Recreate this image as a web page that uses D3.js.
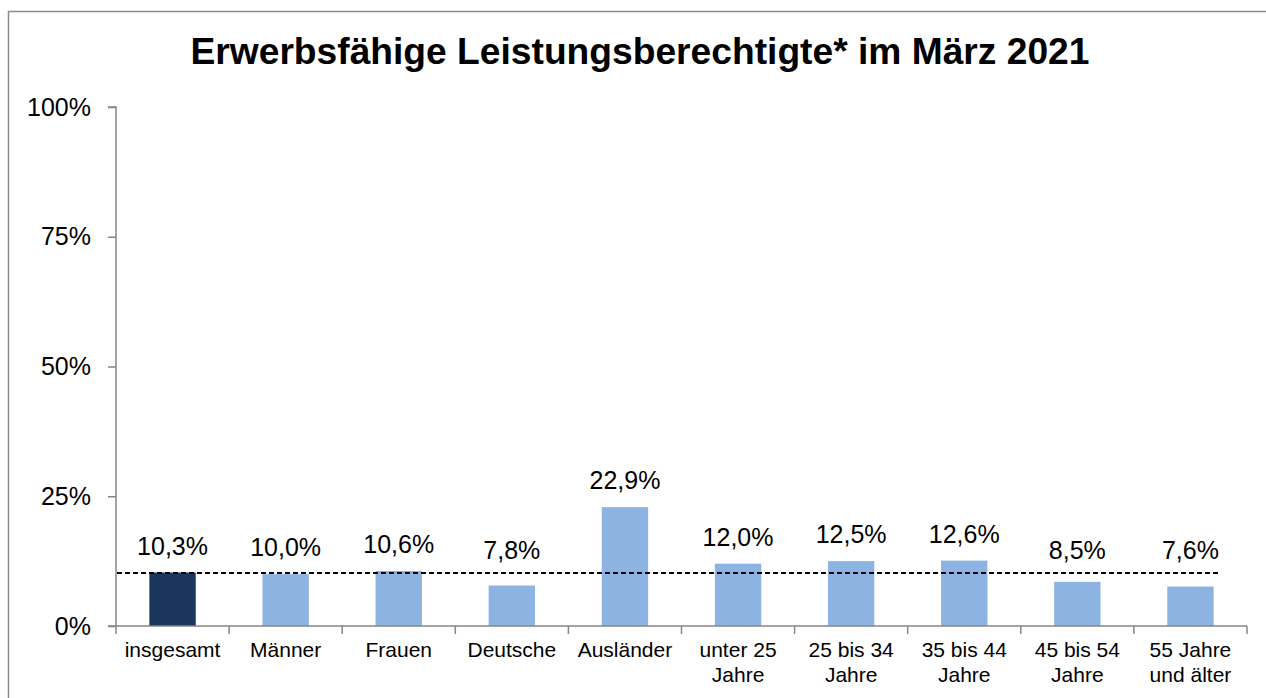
<!DOCTYPE html>
<html>
<head>
<meta charset="utf-8">
<script src="https://cdn.jsdelivr.net/npm/d3@7"></script>
<style>
  html, body { margin: 0; padding: 0; background: #fff; }
  svg { display: block; font-family: "Liberation Sans", Arial, sans-serif; }
</style>
</head>
<body>
<svg id="chart" width="1266" height="698"></svg>
<script>
const title = "Erwerbsfähige Leistungsberechtigte* im März 2021";
const categories = [
  ["insgesamt"], ["Männer"], ["Frauen"], ["Deutsche"], ["Ausländer"],
  ["unter 25", "Jahre"], ["25 bis 34", "Jahre"], ["35 bis 44", "Jahre"],
  ["45 bis 54", "Jahre"], ["55 Jahre", "und älter"]
];
const values = [10.3, 10.0, 10.6, 7.8, 22.9, 12.0, 12.5, 12.6, 8.5, 7.6];
const labels = ["10,3%", "10,0%", "10,6%", "7,8%", "22,9%", "12,0%", "12,5%", "12,6%", "8,5%", "7,6%"];
const yTicks = [0, 25, 50, 75, 100];
const referenceValue = 10.3;

(function () {
const svg = d3.select("#chart");
const pL = 116, pR = 1247, pT = 107, pB = 626;

// outer frame
svg.append("rect").attr("x", 8.5).attr("y", 11.5).attr("width", 1400).attr("height", 800)
  .attr("fill", "none").attr("stroke", "#8c8c8c").attr("stroke-width", 1.5);

svg.append("text").attr("x", 640).attr("y", 63.5).attr("text-anchor", "middle")
  .attr("font-size", 37.2).attr("font-weight", "bold").attr("fill", "#000").text(title);

const keys = categories.map((c, i) => i);
const x = d3.scaleBand().domain(keys).range([pL, pR]).padding(0);
const y = d3.scaleLinear().domain([0, 100]).range([pB, pT]);
const barW = x.bandwidth() * 0.41;

// y axis
const yAxis = d3.axisLeft(y).tickValues(yTicks).tickFormat(d => d + "%").tickSize(8).tickPadding(17);
const gy = svg.append("g").attr("transform", `translate(${pL},0)`).call(yAxis);
gy.select(".domain").attr("stroke", "#868686").attr("stroke-width", 1.5).attr("d", `M-8,${pT}H0V${pB}`);
gy.selectAll(".tick line").attr("stroke", "#868686").attr("stroke-width", 1.5);
gy.selectAll(".tick text").attr("font-size", 25).attr("fill", "#000")
  .attr("font-family", "'Liberation Sans', Arial, sans-serif");

// bars
svg.selectAll("rect.bar").data(values).enter().append("rect").attr("class", "bar")
  .attr("x", (d, i) => x(i) + x.bandwidth() / 2 - barW / 2)
  .attr("y", d => y(d))
  .attr("width", barW)
  .attr("height", d => y(0) - y(d))
  .attr("fill", (d, i) => i === 0 ? "#1b365c" : "#8db3e2");

// x axis
const gx = svg.append("g").attr("transform", `translate(0,${pB})`);
gx.append("line").attr("x1", pL - 8).attr("x2", pR).attr("y1", 0).attr("y2", 0)
  .attr("stroke", "#868686").attr("stroke-width", 1.5);
const boundaries = keys.map(k => x(k)).concat([pR]);
gx.selectAll("line.tk").data(boundaries).enter().append("line").attr("class", "tk")
  .attr("x1", d => d).attr("x2", d => d).attr("y1", 0).attr("y2", 8)
  .attr("stroke", "#868686").attr("stroke-width", 1.5);
const catText = gx.selectAll("text.cat").data(categories).enter().append("text").attr("class", "cat")
  .attr("text-anchor", "middle").attr("font-size", 21).attr("fill", "#000");
catText.each(function(lines, i) {
  const t = d3.select(this);
  lines.forEach((ln, j) => {
    t.append("tspan").attr("x", x(i) + x.bandwidth() / 2).attr("y", 31 + j * 25).text(ln);
  });
});

// reference dashed line
svg.append("line").attr("x1", pL + 1).attr("x2", 1220)
  .attr("y1", Math.round(y(referenceValue))).attr("y2", Math.round(y(referenceValue)))
  .attr("stroke", "#000").attr("stroke-width", 2).attr("stroke-dasharray", "5,3");

// value labels (kept clear of the dashed line)
svg.selectAll("text.val").data(values).enter().append("text").attr("class", "val")
  .attr("x", (d, i) => x(i) + x.bandwidth() / 2)
  .attr("y", d => Math.min(y(d) - 18, y(referenceValue) - 14))
  .attr("text-anchor", "middle").attr("font-size", 25).attr("fill", "#000")
  .text((d, i) => labels[i]);
})();
</script>
</body>
</html>
